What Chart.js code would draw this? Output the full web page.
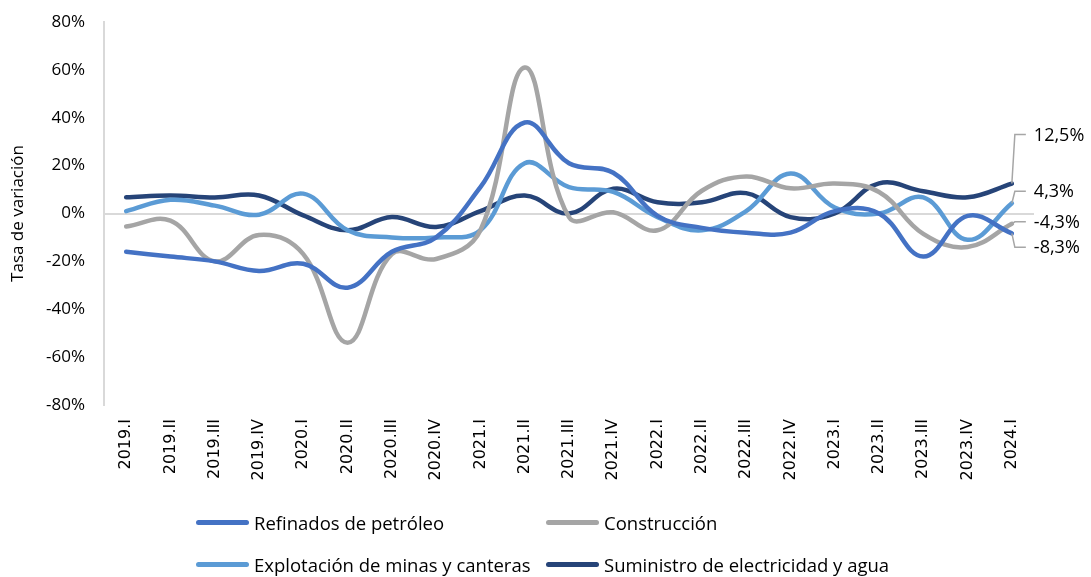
<!DOCTYPE html>
<html lang="es">
<head>
    <meta charset="UTF-8">
    <title>Tasa de variación por actividad</title>
    <script src="https://cdn.jsdelivr.net/npm/chart.js"></script>
    <style>
        body { margin: 0; background: #fff; }
        #wrap { position: relative; width: 1091px; height: 577px; }
        .leg { position: absolute; font-family: "Open Sans", sans-serif; font-size: 18.5px; color: #000; display: flex; align-items: center; white-space: nowrap; }
        .leg span.sw { display: inline-block; width: 53px; height: 5px; border-radius: 3px; margin-right: 5px; }
    </style>
</head>
<body>
<div id="wrap">
    <canvas id="myChart" width="1091" height="577"></canvas>
    <div class="leg" style="left:196px; top:510px;"><span class="sw" style="background:#4472C4"></span>Refinados de petróleo</div>
    <div class="leg" style="left:546px; top:510px;"><span class="sw" style="background:#A5A5A5"></span>Construcción</div>
    <div class="leg" style="left:196px; top:552px;"><span class="sw" style="background:#5B9BD5"></span>Explotación de minas y canteras</div>
    <div class="leg" style="left:546px; top:552px;"><span class="sw" style="background:#264478"></span>Suministro de electricidad y agua</div>
</div>
<script>
var quarters = ['2019.I', '2019.II', '2019.III', '2019.IV', '2020.I', '2020.II', '2020.III', '2020.IV',
    '2021.I', '2021.II', '2021.III', '2021.IV', '2022.I', '2022.II', '2022.III', '2022.IV',
    '2023.I', '2023.II', '2023.III', '2023.IV', '2024.I'];

var refinados = [-16, -18, -20, -24, -21, -31, -16, -10, 11, 38, 21, 17, -1, -6, -8, -8, 1, 0, -18, -1, -8.3];
var construccion = [-5.4, -3, -20, -9, -17, -54, -17, -19, -7, 61, -1.5, 0.5, -7, 9.5, 15.5, 10.5, 12.5, 9, -8.5, -14, -4.3];
var explotacion = [1, 5.7, 3.3, -0.5, 8.3, -7, -10, -10, -7, 21, 11, 9, -1.5, -7, 1, 16.7, 2.5, 0, 6.7, -11, 4.3];
var suministro = [6.8, 7.5, 6.7, 7.5, -0.8, -7, -1.5, -5.6, 1, 7.5, 0, 10.3, 4.7, 4.7, 8.5, -1.5, 0, 12.6, 9.3, 6.8, 12.5];

var yTicks = [-80, -60, -40, -20, 0, 20, 40, 60, 80];

// vertical shift (px) of each end label from its last point
var labelShift = [14, -2, -12, -49];

var endLabels = {
    id: 'endLabels',
    afterDatasetsDraw: function(chart) {
        var ctx = chart.ctx;
        ctx.save();
        chart.data.datasets.forEach(function(ds, i) {
            var meta = chart.getDatasetMeta(i);
            var pt = meta.data[meta.data.length - 1];
            var v = ds.data[ds.data.length - 1];
            var ly = pt.y + labelShift[i];
            ctx.strokeStyle = '#A6A6A6';
            ctx.lineWidth = 1.5;
            ctx.beginPath();
            ctx.moveTo(pt.x, pt.y);
            ctx.lineTo(pt.x + 3, ly);
            ctx.lineTo(pt.x + 14, ly);
            ctx.stroke();
            ctx.fillStyle = '#000';
            ctx.font = '18px "Open Sans"';
            ctx.textBaseline = 'middle';
            ctx.textAlign = 'left';
            ctx.fillText(v.toFixed(1).replace('.', ',') + '%', pt.x + 22, ly + 1);
        });
        ctx.restore();
    }
};

function line(label, data, color) {
    return {
        label: label,
        data: data,
        borderColor: color,
        backgroundColor: color,
        borderWidth: 4.5,
        borderCapStyle: 'round',
        pointRadius: 0,
        tension: 0.4,
        fill: false,
        clip: false
    };
}

var ctx = document.getElementById('myChart').getContext('2d');
var myChart = new Chart(ctx, {
    type: 'line',
    data: {
        labels: quarters,
        datasets: [
            line('Refinados de petróleo', refinados, '#4472C4'),
            line('Construcción', construccion, '#A5A5A5'),
            line('Explotación de minas y canteras', explotacion, '#5B9BD5'),
            line('Suministro de electricidad y agua', suministro, '#264478')
        ]
    },
    plugins: [endLabels],
    options: {
        responsive: false,
        animation: false,
        layout: { padding: { top: 22, right: 57, bottom: 77, left: 0 } },
        plugins: {
            legend: { display: false },
            tooltip: { enabled: false }
        },
        scales: {
            x: {
                offset: true,
                grid: { display: false, drawTicks: false },
                border: { display: false },
                ticks: {
                    maxRotation: 90,
                    minRotation: 90,
                    autoSkip: false,
                    padding: 14,
                    color: '#000',
                    font: { family: 'DejaVu Sans', size: 16 }
                },
                afterFit: function(scale) { scale.height = 95; }
            },
            y: {
                min: -80,
                max: 80,
                afterBuildTicks: function(scale) {
                    scale.ticks = yTicks.map(function(v) { return { value: v }; });
                },
                grid: {
                    drawTicks: false,
                    lineWidth: 2,
                    color: function(c) { return c.tick && c.tick.value === 0 ? '#D9D9D9' : 'rgba(0,0,0,0)'; }
                },
                border: { display: true, color: '#D9D9D9', width: 2 },
                ticks: {
                    padding: 19,
                    color: '#000',
                    font: { family: 'Open Sans', size: 17 },
                    callback: function(v) { return v + '%'; }
                },
                title: {
                    display: true,
                    text: 'Tasa de variación',
                    color: '#000',
                    font: { family: 'Open Sans', size: 17 },
                    padding: { top: 8, bottom: 0 }
                },
                afterFit: function(scale) {
                    scale.width = 104;
                    scale.paddingTop = 0;
                    scale.paddingBottom = 0;
                }
            }
        }
    }
});
</script>
</body>
</html>
